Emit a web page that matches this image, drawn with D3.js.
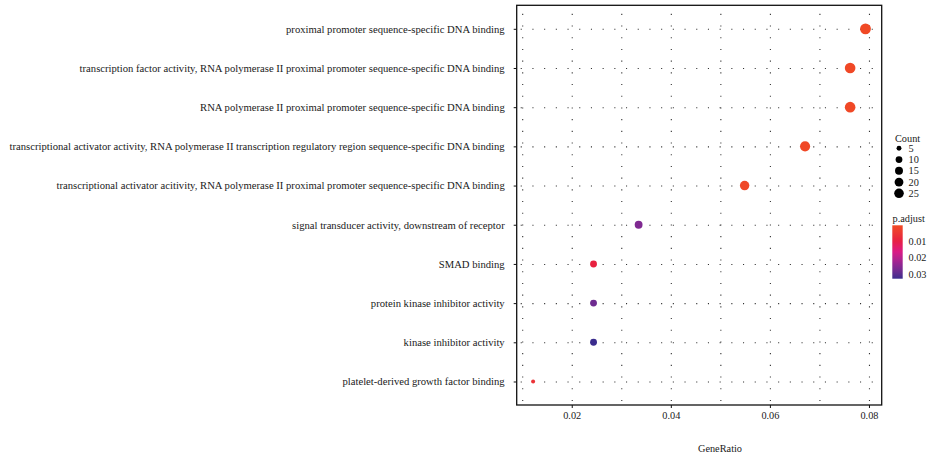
<!DOCTYPE html>
<html>
<head>
<meta charset="utf-8">
<script src="https://cdn.jsdelivr.net/npm/d3@7"></script>
<style>
  html, body { margin: 0; padding: 0; background: #fff; }
  svg { display: block; }
  text { font-family: "Liberation Serif", "Times New Roman", serif; fill: #1a1a1a; }
</style>
</head>
<body>
<svg id="chart" width="928" height="457"></svg>
<script>
// ---- data ----
const categories = [
  "proximal promoter sequence-specific DNA binding",
  "transcription factor activity, RNA polymerase II proximal promoter sequence-specific DNA binding",
  "RNA polymerase II proximal promoter sequence-specific DNA binding",
  "transcriptional activator activity, RNA polymerase II transcription regulatory region sequence-specific DNA binding",
  "transcriptional activator acitivity, RNA polymerase II proximal promoter sequence-specific DNA binding",
  "signal transducer activity, downstream of receptor",
  "SMAD binding",
  "protein kinase inhibitor activity",
  "kinase inhibitor activity",
  "platelet-derived growth factor binding"
];
const geneRatio = [0.0793, 0.0762, 0.0762, 0.0671, 0.0549, 0.0335, 0.0244, 0.0244, 0.0244, 0.0122];
const counts    = [26, 25, 25, 22, 18, 11, 8, 8, 8, 4];
const pAdjust   = [0.0006, 0.0008, 0.0008, 0.0009, 0.0010, 0.0262, 0.0094, 0.0280, 0.0328, 0.0062];
const xTicks = [0.02, 0.04, 0.06, 0.08];
const xMinorTicks = [0.01, 0.03, 0.05, 0.07];
const countBreaks = [5, 10, 15, 20, 25];
const pBreaks = [0.01, 0.02, 0.03];
const pLimits = [0.0003, 0.0328];
const colorFractions = [0, 0.28, 0.5, 0.72, 1];
const colorStops = ["#F04A24", "#E8213F", "#D91A86", "#962593", "#3A2C8D"];

// ---- layout ----
const svg = d3.select("#chart");
const panel = { left: 516.7, right: 881.7, top: 5.3, bottom: 405 };
const W = panel.right - panel.left, H = panel.bottom - panel.top;

const x = d3.scaleLinear().domain([0.00889, 0.08257]).range([panel.left, panel.right]);
const y = d3.scalePoint().domain(categories).range([panel.top, panel.bottom]).padding(0.6);

const pFrac = d3.scaleLinear().domain(pLimits).range([0, 1]).clamp(true);
const colorInterp = d3.scaleLinear().domain(colorFractions).range(colorStops).interpolate(d3.interpolateLab);
const color = p => colorInterp(pFrac(p));

const countNorm = d3.scaleLinear().domain([4, 26]).range([0, 1]).clamp(true);
const rSqrt = d3.scaleSqrt().domain([0, 1]).range([2, 5.4]);
const radius = c => rSqrt(countNorm(c));

// ---- grid (dotted) ----
const gridColor = "#333";
const hGrid = svg.append("g").attr("transform", `translate(${panel.left},0)`)
  .call(d3.axisLeft(y).tickSize(-W).tickFormat(""));
hGrid.select(".domain").remove();
hGrid.selectAll("line").attr("stroke", gridColor).attr("stroke-width", 1.1)
  .attr("stroke-dasharray", "1.1,10.6").attr("x1", 0).attr("x2", W)
  .attr("stroke-dashoffset", -4);

const vGrid = svg.append("g").attr("transform", `translate(0,${panel.bottom})`)
  .call(d3.axisBottom(x).tickValues(xMinorTicks.concat(xTicks)).tickSize(-H).tickFormat(""));
vGrid.select(".domain").remove();
vGrid.selectAll("line").attr("stroke", gridColor).attr("stroke-width", 1.1)
  .attr("stroke-dasharray", "1.1,10.6").attr("stroke-dashoffset", -4);

// ---- points ----
const rows = categories.map((c, i) => ({ cat: c, ratio: geneRatio[i], count: counts[i], p: pAdjust[i] }));
svg.append("g").selectAll("circle").data(rows).join("circle")
  .attr("cx", d => x(d.ratio))
  .attr("cy", d => y(d.cat))
  .attr("r", d => radius(d.count))
  .attr("fill", d => color(d.p));

// ---- panel border ----
svg.append("rect").attr("x", panel.left).attr("y", panel.top).attr("width", W).attr("height", H)
  .attr("fill", "none").attr("stroke", "#111").attr("stroke-width", 1.3);

// ---- axes ----
const xAxis = svg.append("g").attr("transform", `translate(0,${panel.bottom})`)
  .call(d3.axisBottom(x).tickValues(xTicks).tickSize(3).tickPadding(4).tickFormat(d3.format(".2f")));
xAxis.select(".domain").remove();
xAxis.selectAll("line").attr("stroke", "#111");
xAxis.selectAll("text").attr("font-size", 10.3).attr("fill", "#1a1a1a")
  .style("font-family", "'Liberation Serif', serif");

const yAxis = svg.append("g").attr("transform", `translate(${panel.left},0)`)
  .call(d3.axisLeft(y).tickSize(3).tickPadding(9));
yAxis.select(".domain").remove();
yAxis.selectAll("line").attr("stroke", "#111");
yAxis.selectAll("text").attr("font-size", 10.65).attr("fill", "#1a1a1a")
  .style("font-family", "'Liberation Serif', serif");

svg.append("text").attr("x", 720).attr("y", 452).attr("text-anchor", "middle")
  .attr("font-size", 10.3).text("GeneRatio");

// ---- size legend ----
svg.append("text").attr("x", 895).attr("y", 141.5).attr("font-size", 10.3).text("Count");
const legYs = d3.scaleLinear().domain([5, 25]).range([148.3, 193.3]);
const sizeLeg = svg.append("g");
sizeLeg.selectAll("circle").data(countBreaks).join("circle")
  .attr("cx", 899).attr("cy", d => legYs(d)).attr("r", d => radius(d) * 0.9).attr("fill", "#000");
sizeLeg.selectAll("text").data(countBreaks).join("text")
  .attr("x", 908.5).attr("y", d => legYs(d) + 3.5).attr("font-size", 10.3).text(d => d);

// ---- colour bar ----
svg.append("text").attr("x", 892.5).attr("y", 222).attr("font-size", 10.3).text("p.adjust");
const bar = { x: 892.3, y: 225.3, w: 10.4, h: 53.4 };
const defs = svg.append("defs");
const grad = defs.append("linearGradient").attr("id", "pgrad")
  .attr("x1", 0).attr("y1", 0).attr("x2", 0).attr("y2", 1);
grad.selectAll("stop").data(d3.range(0, 1.0001, 0.05)).join("stop")
  .attr("offset", d => d).attr("stop-color", d => colorInterp(d));
svg.append("rect").attr("x", bar.x).attr("y", bar.y).attr("width", bar.w).attr("height", bar.h)
  .attr("fill", "url(#pgrad)");
const barY = d3.scaleLinear().domain(pLimits).range([bar.y, bar.y + bar.h]);
svg.append("g").selectAll("text").data(pBreaks).join("text")
  .attr("x", 908.5).attr("y", d => barY(d) + 3.5).attr("font-size", 10.3)
  .text(d => d3.format(".2f")(d));
</script>
</body>
</html>
